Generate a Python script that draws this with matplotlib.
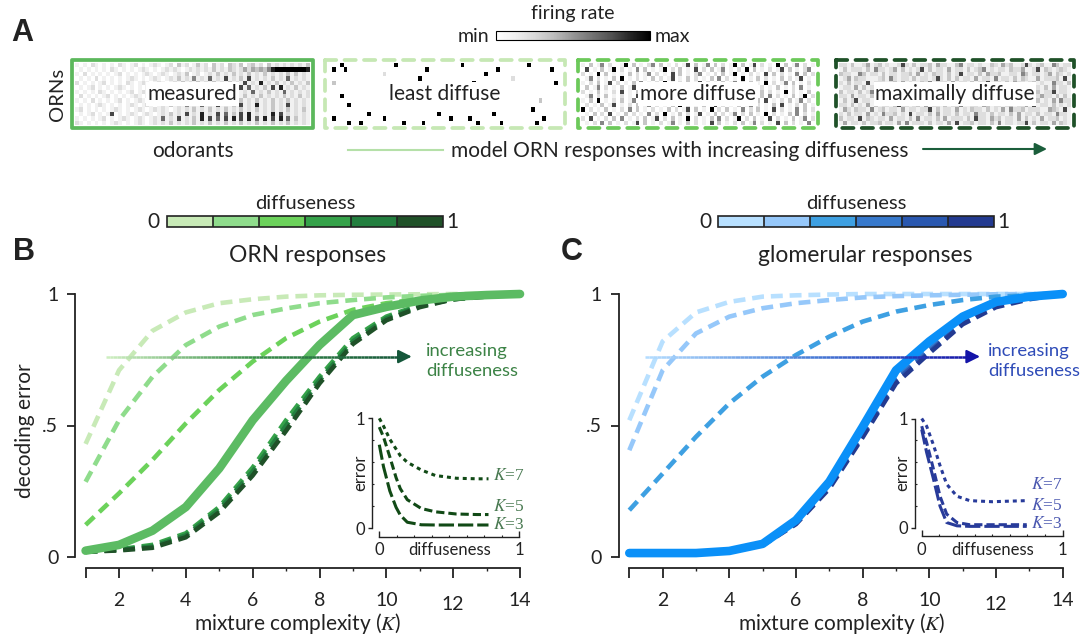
import numpy as np
import matplotlib as mpl
import matplotlib.pyplot as plt
from matplotlib.colors import ListedColormap, LinearSegmentedColormap
from matplotlib.collections import LineCollection
from matplotlib.patches import Rectangle

plt.rcParams['font.family'] = ['Lato', 'DejaVu Sans']
plt.rcParams['mathtext.fontset'] = 'stix'

W, H = 1085, 636
INK = '#222222'

# mixture complexity K
K = np.arange(1, 15)

# decoding error, ORN responses
orn_measured = [0.024, 0.046, 0.10, 0.19, 0.337, 0.52, 0.67, 0.806, 0.92, 0.951, 0.975, 0.99, 0.996, 1.0]
orn_model = [
    [0.43, 0.71, 0.86, 0.93, 0.965, 0.98, 0.99, 0.995, 0.997, 0.998, 0.999, 1.0, 1.0, 1.0],
    [0.286, 0.52, 0.685, 0.806, 0.876, 0.92, 0.945, 0.965, 0.977, 0.987, 0.993, 0.997, 0.999, 1.0],
    [0.122, 0.242, 0.369, 0.508, 0.635, 0.743, 0.832, 0.895, 0.94, 0.965, 0.98, 0.99, 0.996, 1.0],
    [0.02, 0.029, 0.046, 0.09, 0.19, 0.34, 0.52, 0.685, 0.832, 0.914, 0.958, 0.98, 0.993, 1.0],
    [0.02, 0.027, 0.04, 0.082, 0.18, 0.325, 0.50, 0.672, 0.82, 0.907, 0.954, 0.98, 0.992, 1.0],
    [0.02, 0.025, 0.035, 0.075, 0.17, 0.31, 0.48, 0.66, 0.81, 0.90, 0.95, 0.98, 0.99, 1.0],
]

# decoding error, glomerular responses
glom_measured = [0.015, 0.015, 0.015, 0.023, 0.05, 0.14, 0.286, 0.495, 0.71, 0.82, 0.914, 0.97, 0.99, 1.0]
glom_model = [
    [0.52, 0.82, 0.93, 0.97, 0.99, 0.995, 0.998, 1.0, 1.0, 1.0, 1.0, 1.0, 1.0, 1.0],
    [0.406, 0.71, 0.85, 0.914, 0.946, 0.965, 0.977, 0.987, 0.992, 0.995, 0.997, 0.999, 1.0, 1.0],
    [0.178, 0.317, 0.457, 0.584, 0.686, 0.768, 0.838, 0.895, 0.933, 0.958, 0.977, 0.99, 0.995, 1.0],
    [0.015, 0.015, 0.016, 0.022, 0.048, 0.135, 0.275, 0.47, 0.68, 0.79, 0.895, 0.96, 0.985, 1.0],
    [0.015, 0.015, 0.016, 0.021, 0.046, 0.13, 0.27, 0.46, 0.67, 0.78, 0.89, 0.955, 0.983, 1.0],
    [0.015, 0.015, 0.016, 0.02, 0.044, 0.125, 0.26, 0.455, 0.66, 0.775, 0.885, 0.95, 0.98, 1.0],
]

orn_colors = ['#c8eab7', '#8fdc8c', '#6cd25b', '#35a24a', '#237f3f', '#1f5128']
glom_colors = ['#b8e0ff', '#96c8fa', '#3ea0e2', '#3779cc', '#2a58b0', '#233a90']

# insets: error vs diffuseness for a few K
orn_diff = [0, 0.03, 0.075, 0.12, 0.15, 0.2, 0.3, 0.4, 0.55, 0.7, 0.78]
orn_k7 = [1.0, 0.93, 0.81, 0.72, 0.66, 0.6, 0.53, 0.48, 0.455, 0.45, 0.45]
orn_k5 = [0.92, 0.83, 0.65, 0.46, 0.36, 0.26, 0.18, 0.15, 0.13, 0.125, 0.125]
orn_k3 = [0.76, 0.56, 0.34, 0.19, 0.12, 0.055, 0.032, 0.03, 0.03, 0.03, 0.03]

glom_diff = [0, 0.035, 0.083, 0.13, 0.177, 0.25, 0.34, 0.5, 0.62, 0.745]
glom_k7 = [1.0, 0.93, 0.76, 0.57, 0.40, 0.29, 0.25, 0.24, 0.245, 0.25]
glom_k5 = [0.93, 0.78, 0.54, 0.29, 0.127, 0.05, 0.03, 0.03, 0.03, 0.03]
glom_k3 = [0.9, 0.69, 0.45, 0.20, 0.05, 0.02, 0.015, 0.015, 0.015, 0.015]

k_labels = ['$K$=7', '$K$=5', '$K$=3']

# response matrices (ORNs x odorants), firing rate 0..9
hm_measured = [
    "1010210101" "0210120101" "2101203120" "1312031203" "2130231203" "1212121213",
    "0101010102" "1010101210" "1012121012" "1212131213" "2124243435" "8999999998",
    "1020101010" "1201010121" "0121012130" "1201213121" "3121312131" "2121313121",
    "0101020101" "0101210101" "2101213121" "5121612171" "2131712121" "3121612121",
    "2010101201" "0102101210" "1210121312" "1312131213" "1217121812" "1312131213",
    "0101201010" "1210101012" "1012121012" "1213121212" "8171612131" "7181213121",
    "1010102101" "0101201210" "1210121212" "1312121312" "1312161213" "1216121212",
    "0201010120" "1010121012" "1012101212" "1213121213" "1213121312" "1213121312",
    "1010201010" "1201012101" "2101212121" "3121312131" "2131213121" "3121312121",
    "0101012101" "0101210121" "0121312151" "2161217121" "3171218121" "3121712121",
    "1201010101" "2101012101" "2121012121" "3121312131" "2131213121" "3121312131",
    "0101201017" "0101210121" "0121312171" "2181217161" "3171812121" "8171212121",
    "1010101201" "0121012101" "2161217121" "3181716171" "8171816181" "7181613121",
    "2101010101" "2101012101" "2121312121" "3121312131" "2131213121" "3121312121",
]
hm_least = [
    "0009000000" "0000000900" "0000000000" "0000900000" "0000000000" "0900000000",
    "0900900000" "0000000000" "0000090000" "0000000000" "0009000000" "0000000900",
    "0000000000" "0000200000" "0000000000" "0000000000" "9000000000" "0000000000",
    "0000000000" "0000000000" "0009000000" "0000000000" "0000000200" "0000000000",
    "0300000000" "0000000000" "0000000000" "0000000900" "0000000000" "0000000090",
    "0000000000" "0000000000" "0000000000" "0000000000" "0000000000" "0000000000",
    "0000000000" "0000000000" "0000000000" "0000000000" "0000000000" "0000000000",
    "0009000000" "0000000000" "0000000000" "0000000000" "0000000000" "0000000000",
    "0000000000" "0000000000" "0000000000" "0000000000" "0000000000" "0000300000",
    "0000090000" "0000000000" "0000000000" "0000000000" "0000000000" "0000000000",
    "0000000000" "0000000000" "0000000000" "0000000000" "0000000000" "0090000000",
    "0000000000" "9000000000" "0000000090" "0000000000" "0090000000" "0000000000",
    "0900000000" "0000900000" "0000000000" "0900009000" "0000000000" "0000090000",
    "0000090090" "0000000009" "0000900000" "0000000090" "0000900000" "0009000000",
]
hm_more = [
    "1030150200" "1903010250" "3010201703" "0150302019" "0301702010" "9030150201",
    "0701030190" "2010503010" "1902030107" "0203015010" "2090301020" "1703010250",
    "2010903010" "1030201502" "0107030102" "5010203019" "0102010703" "0201050302",
    "0150201030" "9010201030" "2017010302" "0103050201" "0901030201" "0302017010",
    "1020301702" "0103050102" "0901020301" "7020103015" "0203010902" "0150301020",
    "0301502010" "3017020103" "0201030150" "2010301702" "1030902010" "3010205010",
    "2010301020" "7010302010" "5030201090" "1020301070" "2010503020" "1090201030",
    "0150203010" "2010703010" "2010502030" "1090201030" "7020103050" "2010301902",
    "1030901020" "3015020103" "0701020301" "0502010309" "0201030701" "0203015020",
    "0201030170" "1020301502" "0103090201" "0301702010" "3015020103" "0701020301",
    "9020103010" "2050301020" "1030201703" "0109020301" "0502030107" "0201050302",
    "0103020701" "0302010502" "0901030201" "7010302015" "0203010902" "0103050201",
    "2070102030" "5010203017" "0203010902" "0103050201" "9020301070" "2010301502",
    "0102050301" "0201703010" "2015010302" "0107030102" "0301502010" "7030201050",
]
hm_max = [
    "2213112412" "3121127213" "1223142211" "3512212113" "2142311272" "1231153122",
    "1312221315" "2212413121" "2713122141" "2213123512" "1221322411" "2713212321",
    "3221153122" "1312212231" "4121322131" "2712213142" "2311221531" "2212413212",
    "1241322111" "2315212213" "1221272131" "3122141221" "5122131321" "1412223171",
    "2131221712" "2212314121" "1325122214" "1221312271" "2213142212" "3121152213",
    "1221413122" "7121322131" "2212141321" "3152212213" "1412272113" "2213141221",
    "3122131251" "2213121412" "2312712213" "1421222315" "2131214122" "1312271221",
    "2214122131" "1312253122" "1412213122" "3171221412" "2213125213" "1242213131",
    "1312712212" "2141221313" "2211541223" "1221312141" "3122171221" "2312141522",
    "2213121413" "1221372212" "3141221312" "2511221431" "2212312241" "7122131212",
    "1421322151" "2312214122" "1227131221" "4121322131" "2141522312" "2211432171",
    "2131221412" "1522312171" "2213141221" "3122152213" "1221314122" "1312215221",
    "3122171321" "2214122131" "5122131412" "2213172214" "2312214131" "2141223121",
    "1412213122" "3122141512" "2213122141" "7122312213" "1512212271" "3122141321",
]


def px_rect(x0, y0, x1, y1):
    return [x0 / W, 1 - y1 / H, (x1 - x0) / W, (y1 - y0) / H]


fig = plt.figure(figsize=(W / 100, H / 100), dpi=100)

# overlay in pixel units for panel A and free labels
axA = fig.add_axes([0, 0, 1, 1], zorder=-1)

boxes = [(72, 313), (325, 565), (578, 818), (836, 1074)]
top, bot = 60, 128
names = ['measured', 'least diffuse', 'more diffuse', 'maximally diffuse']
maps = [hm_measured, hm_least, hm_more, hm_max]
edge_cols = ['#5cb85c', '#c6e8b4', '#6cc95a', '#1f5128']
for i, ((x0, x1), name, rows, ec) in enumerate(zip(boxes, names, maps, edge_cols)):
    data = np.array([[int(c) for c in r] for r in rows])
    axA.imshow(data, cmap='Greys', vmin=0, vmax=9, aspect='auto', interpolation='nearest',
               extent=(x0 + 3, x1 - 3, bot - 3, top + 3))
    ls = '-' if i == 0 else (0, (3, 2.2))
    axA.add_patch(Rectangle((x0, top), x1 - x0, bot - top, fill=False, ec=ec, lw=2.7,
                            ls=ls, capstyle='round', joinstyle='round'))
    axA.text((x0 + x1) / 2, 94, name, ha='center', va='center', fontsize=15, color=INK,
             bbox=dict(fc='white', ec='none', pad=1.2))

axA.text(22, 33, 'A', ha='center', va='center', fontsize=22, fontweight='bold',
         family='Liberation Sans', color=INK)
axA.text(57, 94, 'ORNs', ha='center', va='center', rotation=90, fontsize=14.5, color=INK)
axA.text(193, 151, 'odorants', ha='center', va='center', fontsize=15, color=INK)
axA.plot([348, 443], [150, 150], color='#b5e0a8', lw=1.5)
axA.text(451, 151, 'model ORN responses with increasing diffuseness', ha='left', va='center',
         fontsize=15, color=INK)
axA.annotate('', xy=(1047, 149), xytext=(923, 149),
             arrowprops=dict(arrowstyle='-|>', color='#1b5e3b', lw=1.5, mutation_scale=18,
                             shrinkA=0, shrinkB=0))

axA.text(573, 14, 'firing rate', ha='center', va='center', fontsize=14, color=INK)
axA.text(489, 36, 'min', ha='right', va='center', fontsize=14, color=INK)
axA.text(655, 36, 'max', ha='left', va='center', fontsize=14, color=INK)
cax = fig.add_axes(px_rect(496, 31, 650, 40))
cb = mpl.colorbar.ColorbarBase(cax, cmap='Greys', orientation='horizontal')
cb.set_ticks([])
cb.outline.set_linewidth(0.8)


def panel(letter, title, ax_px, cbar_px, measured, model, colors, solid_col,
          arrow_span, arrow_cols, text_col, text_x, ylabel):
    ax = fig.add_axes(px_rect(*ax_px))
    ax.set_xlim(1, 14)
    ax.set_ylim(0, 1)
    ax.patch.set_alpha(0)

    for i, (vals, c) in enumerate(zip(model, colors)):
        ax.plot(K, vals, color=c, lw=3.3, ls=(0, (2.6, 1.5)), clip_on=False, zorder=2 + i * 0.1)
    ax.plot(K, measured, color=solid_col, lw=6.2, solid_capstyle='round',
            solid_joinstyle='round', clip_on=False, zorder=3)

    # gradient arrow
    ay = 0.762
    xs = np.linspace(arrow_span[0], arrow_span[1] - 0.3, 80)
    segs = [[(xs[j], ay), (xs[j + 1], ay)] for j in range(len(xs) - 1)]
    cmap = LinearSegmentedColormap.from_list('arr', arrow_cols)
    lc = LineCollection(segs, colors=cmap(np.linspace(0, 1, len(segs))), lw=1.8, zorder=4)
    ax.add_collection(lc)
    ax.annotate('', xy=(arrow_span[1], ay), xytext=(arrow_span[1] - 0.32, ay), zorder=4,
                arrowprops=dict(arrowstyle='-|>', color=arrow_cols[-1], lw=1.6,
                                mutation_scale=20, shrinkA=0, shrinkB=0))
    ax.text(text_x, 0.745, 'increasing\ndiffuseness', ha='left', va='center', fontsize=13.3,
            color=text_col, linespacing=1.3)

    for s in ['top', 'right']:
        ax.spines[s].set_visible(False)
    ax.spines['left'].set_bounds(0, 1)
    ax.spines['left'].set_position(('outward', 7.6))
    ax.spines['bottom'].set_bounds(1, 14)
    ax.spines['bottom'].set_position(('outward', 8))
    for s in ['left', 'bottom']:
        ax.spines[s].set_linewidth(1.3)
        ax.spines[s].set_color(INK)

    ax.set_yticks([0, 0.5, 1])
    ax.set_yticklabels(['0', '.5', '1'])
    ax.set_xticks([1, 2, 4, 6, 8, 10, 12, 14])
    ax.set_xticklabels(['', '2', '4', '6', '8', '10', '12', '14'])
    ax.set_xticks([3, 5, 7, 9, 11, 13], minor=True)
    ax.tick_params(axis='y', length=6, width=1.3, pad=6, labelsize=14, colors=INK)
    ax.tick_params(axis='x', which='major', length=7.5, width=1.3, pad=10, labelsize=14, colors=INK)
    ax.tick_params(axis='x', which='minor', length=2, width=1, colors=INK)
    ax.xaxis.get_major_ticks()[6].set_pad(12.5)

    ax.set_xlabel('mixture complexity ($K$)', fontsize=15, color=INK, va='center')
    ax.xaxis.set_label_coords(0.489, -0.251)
    if ylabel:
        ax.set_ylabel(ylabel, fontsize=15, color=INK, va='center')
        ax.yaxis.set_label_coords(-0.1395, 0.479)

    # discrete diffuseness colorbar
    cx0, cy0, cx1, cy1 = cbar_px
    cbax = fig.add_axes(px_rect(*cbar_px))
    cbar = mpl.colorbar.ColorbarBase(cbax, cmap=ListedColormap(colors), orientation='horizontal',
                                     drawedges=True)
    cbar.set_ticks([])
    cbar.outline.set_linewidth(1.2)
    cbar.outline.set_edgecolor(INK)
    cbar.dividers.set_linewidth(1.2)
    cbar.dividers.set_color(INK)
    axA.text(cx0 - 7, (cy0 + cy1) / 2 + 1, '0', ha='right', va='center', fontsize=15, color=INK)
    axA.text(cx1 + 3, (cy0 + cy1) / 2 + 1, '1', ha='left', va='center', fontsize=15, color=INK)
    axA.text((cx0 + cx1) / 2, cy0 - 12, 'diffuseness', ha='center', va='center', fontsize=14.5,
             color=INK)

    axA.text(title[1], 256, title[0], ha='center', va='center', fontsize=16.5, color=INK)
    axA.text(letter[1], 252, letter[0], ha='center', va='center', fontsize=22,
             fontweight='bold', family='Liberation Sans', color=INK)
    return ax


def inset(in_px, diff, k7, k5, k3, line_col, lab_col, lab_y):
    ax = fig.add_axes(px_rect(*in_px))
    ax.set_xlim(0, 1)
    ax.set_ylim(0, 1)
    ax.patch.set_alpha(0)
    styles = [(0, (1.3, 1.3)), (0, (2.7, 1.3)), (0, (5, 1.3))]
    for vals, ls, lab, ly in zip([k7, k5, k3], styles, k_labels, lab_y):
        ax.plot(diff, vals, color=line_col, lw=2.2, ls=ls, clip_on=False)
        ax.text(diff[-1] + 0.03, ly, lab, ha='left', va='center', fontsize=12.5,
                family='Liberation Serif', color=lab_col)
    for s in ['top', 'right']:
        ax.spines[s].set_visible(False)
    ax.spines['left'].set_bounds(0, 1)
    ax.spines['left'].set_position(('outward', 5))
    ax.spines['bottom'].set_bounds(0, 1)
    ax.spines['bottom'].set_position(('outward', 6))
    for s in ['left', 'bottom']:
        ax.spines[s].set_linewidth(1.0)
        ax.spines[s].set_color(INK)
    ax.set_yticks([0, 1])
    ax.set_yticks([0.2, 0.4, 0.6, 0.8], minor=True)
    ax.set_xticks([0, 1])
    ax.set_xticks([0.125, 0.25, 0.375, 0.5, 0.625, 0.75, 0.875], minor=True)
    ax.tick_params(axis='y', which='major', length=3, width=1, pad=2, labelsize=12, colors=INK)
    ax.tick_params(axis='y', which='minor', direction='in', length=1.5, width=0.8, colors=INK)
    ax.tick_params(axis='x', which='major', direction='in', length=4, width=1, pad=4,
                   labelsize=12, colors=INK)
    ax.tick_params(axis='x', which='minor', direction='in', length=1.5, width=0.8, colors=INK)
    ax.set_xlabel('diffuseness', fontsize=12, color=INK, va='center')
    ax.xaxis.set_label_coords(0.5, -0.2)
    ax.set_ylabel('error', fontsize=12, color=INK, va='center')
    ax.yaxis.set_label_coords(-0.138, 0.5)
    return ax


panel(('B', 24), ('ORN responses', 308), (85.6, 294, 520, 557), (166.7, 215.7, 443.3, 226.7),
      orn_measured, orn_model, orn_colors, '#5cbb63', (1.61, 10.76),
      ['#cdeec0', '#3a8f4a', '#15573a'], '#3c8346', 11.19, 'decoding error')
inset((379.3, 418.3, 519.3, 528.3), orn_diff, orn_k7, orn_k5, orn_k3,
      '#114a16', '#4a7a52', [0.475, 0.196, 0.03])

panel(('C', 572), ('glomerular responses', 865), (629.3, 294, 1062.7, 557),
      (718.3, 215.7, 994.3, 226.7), glom_measured, glom_model, glom_colors, '#0a90f8',
      (1.47, 11.52), ['#b3dcff', '#4a7fd8', '#1414a8'], '#2f4cb8', 11.77, None)
inset((921.7, 418.5, 1062.7, 528.0), glom_diff, glom_k7, glom_k5, glom_k3,
      '#283b9a', '#4b58b0', [0.39, 0.2, 0.04])

axA.set_xlim(0, W)
axA.set_ylim(H, 0)
axA.axis('off')

fig.savefig('out.png', dpi=100)
